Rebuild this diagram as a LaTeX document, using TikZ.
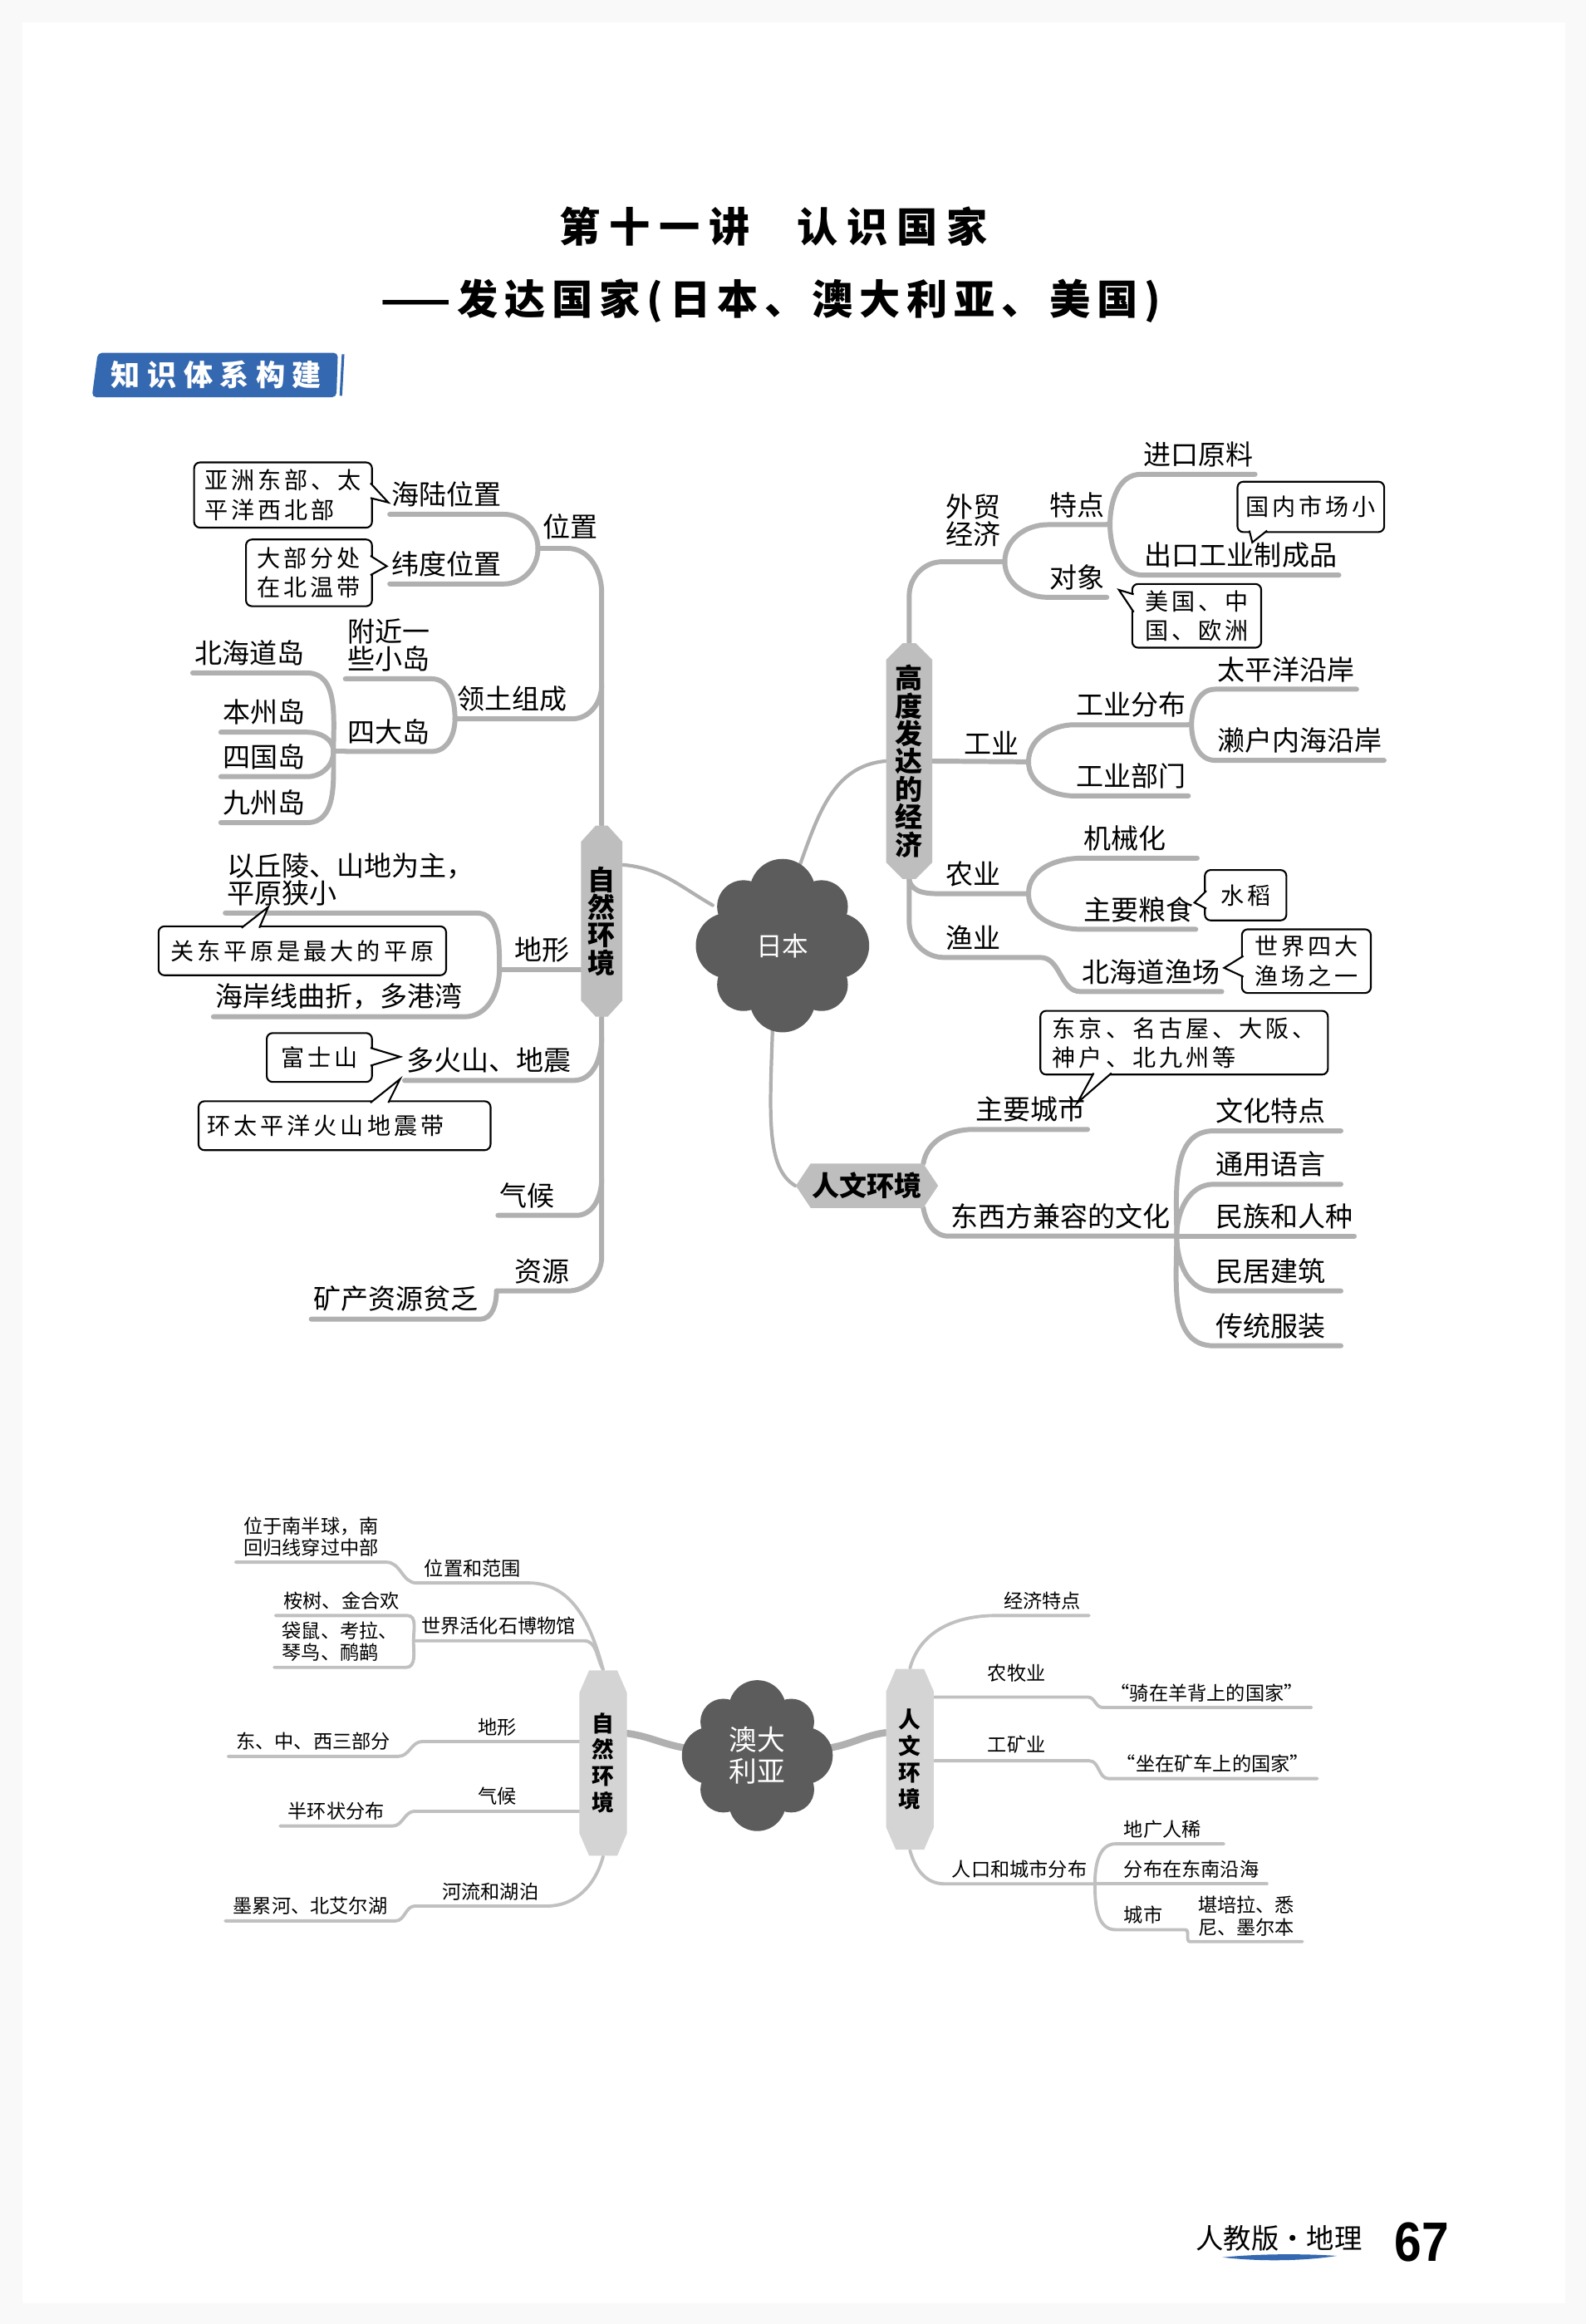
\documentclass[tikz,border=0pt]{standalone}
\usepackage{fontspec}
\setmainfont{Noto Sans CJK SC}
\newfontfamily\notefont[LetterSpace=14]{Noto Sans CJK SC}
\newfontfamily\titlefont[LetterSpace=22]{Noto Sans CJK SC}
\newfontfamily\subtitlefont[LetterSpace=16]{Noto Sans CJK SC}
\newfontfamily\badgefont[LetterSpace=24]{Noto Sans CJK SC}
\newfontfamily\numfont{Liberation Sans}
\usetikzlibrary{calc}

\definecolor{badgeblue}{RGB}{52,104,176}
\definecolor{cloudgray}{RGB}{92,92,92}
\definecolor{branchgray}{RGB}{176,176,176}
\definecolor{tagdark}{RGB}{190,190,190}
\definecolor{taglight}{RGB}{212,212,212}

\def\pxu{0.5076pt}

\pgfdeclarelayer{paper}
\pgfdeclarelayer{back}
\pgfsetlayers{paper,back,main}

\tikzset{
  lbl/.style={font=\fontsize{9.4}{9.5}\selectfont, inner xsep=1*\pxu, inner ysep=4.5*\pxu, align=left},
  slbl/.style={font=\fontsize{6.6}{7.4}\selectfont, inner xsep=5*\pxu, inner ysep=3.5*\pxu, align=left},
  ul/.style={text width=#1*\pxu},
  note/.style={draw, line width=0.6pt, rounded corners=2pt, fill=white, inner sep=0pt, align=left,
    font=\notefont\fontsize{8}{10}\selectfont},
  br/.style={draw=branchgray, line width=1.7pt, line cap=round},
  sbr/.style={draw=branchgray!80, line width=1.1pt, line cap=round},
  link/.style={draw=branchgray, line width=1.2pt, line cap=round},
  tagtxt/.style={inner sep=0pt, align=center, font=\bfseries\fontsize{9.4}{9.5}\selectfont},
  stagtxt/.style={inner sep=0pt, align=center, font=\bfseries\fontsize{7.6}{9.1}\selectfont},
  cloudtxt/.style={circle, inner sep=0pt, text=white, align=center}
}

% bracket twigs: fork -> child underline
\newcommand\twigL[4][br]{\draw[#1] (#2) to[out=#4,in=0] (#3.south east) -- (#3.south west);}
\newcommand\twigR[4][br]{\draw[#1] (#2) to[out=#4,in=180] (#3.south west) -- (#3.south east);}
\newcommand\stepL[2]{\draw[sbr] (#1) to[out=180,in=0] (#2.south east) -- (#2.south west);}
% callout pointer
\newcommand\notch[3]{\fill[white] (#1) -- (#3) -- (#2) -- cycle;
  \draw[line width=0.6pt] (#1) -- (#3) -- (#2);}
% centre cloud
\newcommand\cloudshape[2]{%
  \begin{scope}[shift={(#1)}, scale=#2]
    \fill[cloudgray] (0,0) circle[radius=44];
    \foreach \a in {0,90,180,270} {\fill[cloudgray] (\a:36.3) circle[radius=22.2];}
    \foreach \a in {45,135,225,315} {\fill[cloudgray] (\a:37.2) circle[radius=17.8];}
  \end{scope}}
% tag outline: x, ytop, ybot, width, neck, cut, colour
\newcommand\tagshape[7]{%
  \fill[#7] ({#1-#4/2},{#2+#6}) -- ({#1-#5/2},#2) -- ({#1+#5/2},#2) -- ({#1+#4/2},{#2+#6})
    -- ({#1+#4/2},{#3-#6}) -- ({#1+#5/2},#3) -- ({#1-#5/2},#3) -- ({#1-#4/2},{#3-#6}) -- cycle;}

\begin{document}
\begin{tikzpicture}[x=0.01784cm, y=-0.01784cm]
\begin{pgfonlayer}{paper}
  \fill[gray!5] (0,0) rectangle (1070,1568);
  \fill[white] (15,15) rectangle (1056,1554);
\end{pgfonlayer}
\useasboundingbox (0,0) rectangle (1070,1568);

% header
\node[font=\titlefont\bfseries\fontsize{14}{16}\selectfont] (ttl1) at (522,153) {第十一讲\hspace{16pt}认识国家};
\node[font=\subtitlefont\bfseries\fontsize{14}{16}\selectfont] (ttl2) at (520,203) {——发达国家(日本、澳大利亚、美国)};
\fill[badgeblue, rounded corners=1.5pt] (66,238) -- (228,238) -- (227,268) -- (62,268) -- cycle;
\draw[badgeblue, line width=0.9pt] (231.5,239) -- (230,267);
\node[font=\badgefont\bfseries\fontsize{10}{12}\selectfont, text=white] (badge) at (146,253) {知识体系构建};

% ---------- Japan ----------
\coordinate (jpc) at (528,638);
\cloudshape{jpc}{1}
\node[cloudtxt, minimum size=108*\pxu, font=\fontsize{9}{10}\selectfont] (jp) at (jpc) {日本};

\tagshape{406}{557}{686}{28}{8}{11}{tagdark}
\node[tagtxt, minimum width=28*\pxu, minimum height=129*\pxu] (tagzr) at (406,621.5) {自\\然\\环\\境};
\tagshape{613.5}{434}{593}{31}{9}{11}{tagdark}
\node[tagtxt, minimum width=31*\pxu, minimum height=159*\pxu] (tagjj) at (613.5,513.5) {高\\度\\发\\达\\的\\经\\济};
\fill[tagdark] (537,800) -- (547,785) -- (623,785) -- (633,800) -- (623,815) -- (547,815) -- cycle;
\node[tagtxt, minimum width=96*\pxu, minimum height=30*\pxu] (tagrw) at (585,800) {人文环境};

% natural environment
\node[lbl, anchor=south west] (wz) at (365,369) {位置};
\coordinate (fwz) at (363,370);
\node[lbl, anchor=south west] (hlwz) at (263,347) {海陆位置};
\node[lbl, anchor=south west] (wdwz) at (263,394) {纬度位置};
\node[note, minimum width=120*\pxu, minimum height=44*\pxu] (nb1) at (191,334) {亚洲东部、太\\平洋西北部};
\notch{250,326}{250,336}{262,339}
\node[note, minimum width=85*\pxu, minimum height=45*\pxu] (nb2) at (208.5,386.5) {大部分处\\在北温带};
\notch{250,375}{250,388}{261,382}

\node[lbl, anchor=south west] (ltzc) at (307,485) {领土组成};
\coordinate (fltzc) at (307,485);
\coordinate (tj1) at (406,462);
\node[lbl, anchor=south west] (fjxd) at (233,458) {附近一\\些小岛};
\node[lbl, anchor=south west] (sdd) at (233,507) {四大岛};
\coordinate (fsdd) at (225,507);
\node[lbl, anchor=south west] (bhd) at (130,454) {北海道岛};
\node[lbl, anchor=south west] (bzd) at (149,494) {本州岛};
\node[lbl, anchor=south west] (sgd) at (149,524) {四国岛};
\node[lbl, anchor=south west] (jzd) at (149,555) {九州岛};

\node[lbl, anchor=south west] (dx) at (346,654) {地形};
\coordinate (fdx) at (337,654);
\node[lbl, anchor=south west] (ylsd) at (152,616) {以丘陵、山地为主，\\平原狭小};
\node[note, minimum width=194*\pxu, minimum height=33*\pxu] (nb3) at (204,641.5) {关东平原是最大的平原};
\notch{163,626}{175,626}{181,612}
\node[lbl, anchor=south west] (hax) at (144,686) {海岸线曲折，多港湾};

\node[lbl, anchor=south west] (dhs) at (273,729) {多火山、地震};
\coordinate (tj2) at (406,700);
\node[note, minimum width=71*\pxu, minimum height=33*\pxu] (nb4) at (215.5,713.5) {富士山};
\notch{250,707}{250,719}{270,713}
\node[note, minimum width=197*\pxu, minimum height=33*\pxu, text width=185*\pxu] (nb5) at (232.5,759.5) {环太平洋火山地震带};
\notch{250,744}{262,744}{270,728}

\node[lbl, anchor=south west, ul=50] (qh) at (336,820) {气候};
\coordinate (tj3) at (406,795);
\node[lbl, anchor=south west] (zy) at (346,871) {资源};
\coordinate (fzy) at (335,871);
\node[lbl, anchor=south west] (kczy) at (210,890) {矿产资源贫乏};

% economy
\node[lbl, align=center] (wmjj) at (657,351) {外贸\\经济};
\coordinate (fwm) at (678,379);
\node[lbl, anchor=south west] (td) at (707,354) {特点};
\coordinate (ftd) at (749,354);
\node[lbl, anchor=south west] (jkyl) at (770,320) {进口原料};
\node[lbl, anchor=south west] (ckzp) at (771,388) {出口工业制成品};
\node[note, minimum width=99*\pxu, minimum height=34*\pxu] (nb6) at (884.5,342) {国内市场小};
\notch{843,358}{855,358}{845,366}
\node[lbl, anchor=south west] (dxo) at (707,403) {对象};
\node[note, minimum width=87*\pxu, minimum height=43*\pxu] (nb7) at (807.5,415.5) {美国、中\\国、欧洲};
\notch{765,401}{765,413}{755,398}

\node[lbl, anchor=south west] (gy) at (649,514) {工业};
\coordinate (fgy) at (694,514);
\node[lbl, anchor=south west] (gyfb) at (725,489) {工业分布};
\coordinate (fgyfb) at (804,489);
\node[lbl, anchor=south west] (gybm) at (725,537) {工业部门};
\node[lbl, anchor=south west] (tpyya) at (820,465) {太平洋沿岸};
\node[lbl, anchor=south west] (lhnh) at (820,513) {濑户内海沿岸};

\node[lbl, anchor=south west] (ny) at (637,603) {农业};
\coordinate (fny) at (694,603);
\node[lbl, anchor=south west, ul=75] (jxh) at (730,579) {机械化};
\node[lbl, anchor=south west] (zyls) at (730,627) {主要粮食};
\node[note, minimum width=55*\pxu, minimum height=34*\pxu] (nb8) at (840.5,604) {水稻};
\notch{814,601}{814,613}{806,609}

\node[lbl, anchor=south west] (yy) at (637,646) {渔业};
\coordinate (fyy) at (702,646);
\node[lbl, anchor=south west] (bhdyc) at (729,669) {北海道渔场};
\node[note, minimum width=87*\pxu, minimum height=43*\pxu] (nb9) at (881.5,648.5) {世界四大\\渔场之一};
\notch{839,645}{839,659}{826,653}

% human environment
\coordinate (rwtop) at (623,785);
\coordinate (rwbot) at (623,815);
\node[lbl, anchor=south west] (zycs) at (657,762) {主要城市};
\node[note, minimum width=194*\pxu, minimum height=43*\pxu] (nb10) at (799,703.5) {东京、名古屋、大阪、\\神户、北九州等};
\notch{738,724}{750,724}{727,744}
\node[lbl, anchor=south west] (dxfwh) at (640,834) {东西方兼容的文化};
\coordinate (fwh) at (794,834);
\node[lbl, anchor=south west, ul=83] (whtd) at (819,763) {文化特点};
\node[lbl, anchor=south west, ul=83] (tyyy) at (819,799) {通用语言};
\node[lbl, anchor=south west, ul=92] (mzrz) at (819,834) {民族和人种};
\node[lbl, anchor=south west, ul=83] (mjjz) at (819,871) {民居建筑};
\node[lbl, anchor=south west, ul=83] (ctfz) at (819,908) {传统服装};

\begin{pgfonlayer}{back}
  \draw[br] (tagzr.north) -- (406,400) to[out=90,in=0] (383,370) -- (fwz);
  \twigL{fwz}{hlwz}{90} \twigL{fwz}{wdwz}{-90}
  \draw[br] (fltzc) -- (386,485) to[out=0,in=-90] (tj1);
  \twigL{fltzc}{fjxd}{90} \twigL{fltzc}{sdd}{-90}
  \draw[br] (sdd.south west) -- (fsdd);
  \twigL{fsdd}{bhd}{90} \twigL{fsdd}{bzd}{90} \twigL{fsdd}{sgd}{-90} \twigL{fsdd}{jzd}{-90}
  \draw[br] (fdx) -- (fdx -| tagzr.center);
  \twigL{fdx}{ylsd}{90} \twigL{fdx}{hax}{-90}
  \draw[br] (tj2) to[out=-90,in=0] (dhs.south east) -- (dhs.south west);
  \draw[br] (tj3) to[out=-90,in=0] (qh.south east) -- (qh.south west);
  \draw[br] (tagzr.south) -- (406,848) to[out=-90,in=0] (383,871) -- (fzy);
  \twigL{fzy}{kczy}{-90}

  \draw[br] (tagjj.north) -- (613.5,402) to[out=90,in=180] (636,379) -- (fwm);
  \twigR{fwm}{td}{90} \twigR{fwm}{dxo}{-90}
  \draw[br] (td.south east) -- (ftd);
  \twigR{ftd}{jkyl}{90} \twigR{ftd}{ckzp}{-90}
  \draw[br] (tagjj.east) -- (fgy);
  \twigR{fgy}{gyfb}{90} \twigR{fgy}{gybm}{-90}
  \draw[br] (gyfb.south east) -- (fgyfb);
  \twigR{fgyfb}{tpyya}{90} \twigR{fgyfb}{lhnh}{-90}
  \draw[br] (tagjj.south) to[out=-80,in=180] (ny.south west) -- (fny);
  \twigR{fny}{jxh}{90} \twigR{fny}{zyls}{-90}
  \draw[br] (tagjj.south) -- (613.5,622) to[out=-90,in=180] (yy.south west) -- (fyy)
    to[out=0,in=180] (bhdyc.south west) -- (bhdyc.south east);

  \draw[br] (rwtop) to[out=80,in=180] (zycs.south west) -- (zycs.south east);
  \draw[br] (rwbot) to[out=-80,in=180] (dxfwh.south west) -- (dxfwh.south east) -- (fwh);
  \twigR{fwh}{whtd}{90} \twigR{fwh}{tyyy}{90}
  \draw[br] (fwh) -- (mzrz.south west) -- (mzrz.south east);
  \twigR{fwh}{mjjz}{-90} \twigR{fwh}{ctfz}{-90}

  \draw[link] ($(tagzr.east)+(0,-38)$) to[out=-5,in=150] (jp.150);
  \draw[link] (jp.78) to[out=70,in=185] (tagjj.west);
  \draw[link] (jp.263) .. controls +(-2,60) and +(-20,-12) .. (tagrw.west);
\end{pgfonlayer}

% ---------- Australia ----------
\coordinate (auc) at (511,1184.5);
\cloudshape{auc}{0.87}
\node[cloudtxt, minimum size=94*\pxu, font=\fontsize{9.6}{10.9}\selectfont] (au) at (auc) {澳大\\利亚};

\tagshape{407}{1127}{1252}{32}{19}{15}{taglight}
\node[stagtxt, minimum width=32*\pxu, minimum height=125*\pxu] (tagzr2) at (407,1189.5) {自\\然\\环\\境};
\tagshape{614}{1126}{1248}{32}{19}{15}{taglight}
\node[stagtxt, minimum width=32*\pxu, minimum height=122*\pxu] (tagrw2) at (614,1187) {人\\文\\环\\境};

\node[slbl, anchor=south west] (wzfw) at (281,1068) {位置和范围};
\node[slbl, anchor=south west] (wynbq) at (159,1054) {位于南半球，南\\回归线穿过中部};
\node[slbl, anchor=south west] (sjhhs) at (279,1107) {世界活化石博物馆};
\node[slbl, anchor=south west] (asjhh) at (186,1090) {桉树、金合欢};
\node[slbl, anchor=south west] (dskl) at (185,1125) {袋鼠、考拉、\\琴鸟、鸸鹋};
\node[slbl, anchor=south] (dx2) at (335.5,1175) {地形};
\coordinate (fdx2) at (285,1175);
\node[slbl, anchor=south west] (dzx) at (154,1185) {东、中、西三部分};
\node[slbl, anchor=south] (qh2) at (335.5,1222) {气候};
\coordinate (fqh2) at (280,1222);
\node[slbl, anchor=south west] (hzfb) at (189,1232) {半环状分布};
\node[slbl, anchor=south west] (hlhp) at (293,1286) {河流和湖泊};
\coordinate (fhl) at (280,1286);
\node[slbl, anchor=south west] (mlh) at (152,1296) {墨累河、北艾尔湖};

\node[slbl, anchor=south west] (jjtd) at (672,1090) {经济特点};
\node[slbl] (nmy) at (686,1129) {农牧业};
\coordinate (fnmy) at (734,1145);
\node[slbl, anchor=south west] (qzyb) at (744,1152) {“骑在羊背上的国家”};
\node[slbl] (gky) at (686,1177) {工矿业};
\coordinate (fgky) at (735,1188);
\node[slbl, anchor=south west] (zzkc) at (748,1200) {“坐在矿车上的国家”};
\node[slbl, anchor=south west] (rkcs) at (637,1271) {人口和城市分布};
\node[slbl, anchor=south west, ul=62] (dgrx) at (753,1244) {地广人稀};
\node[slbl, anchor=south west] (fbdn) at (753,1271) {分布在东南沿海};
\node[slbl, anchor=south west, ul=36] (cs2) at (753,1302) {城市};
\node[slbl, anchor=south west] (kpl) at (803,1310) {堪培拉、悉\\尼、墨尔本};

\begin{pgfonlayer}{back}
  \draw[sbr] (tagzr2.north) to[out=105,in=0] (wzfw.south east) -- (wzfw.south west);
  \stepL{wzfw.south west}{wynbq}
  \draw[sbr] (tagzr2.north) to[out=120,in=0] (sjhhs.south east) -- (sjhhs.south west);
  \twigL[sbr]{sjhhs.south west}{asjhh}{90} \twigL[sbr]{sjhhs.south west}{dskl}{-90}
  \draw[sbr] (tagzr2.west |- fdx2) -- (fdx2); \stepL{fdx2}{dzx}
  \draw[sbr] (tagzr2.west |- fqh2) -- (fqh2); \stepL{fqh2}{hzfb}
  \draw[sbr] (tagzr2.south) to[out=-105,in=0] (hlhp.south east) -- (hlhp.south west) -- (fhl);
  \stepL{fhl}{mlh}

  \draw[sbr] (tagrw2.north) to[out=75,in=180] (jjtd.south west) -- (jjtd.south east);
  \draw[sbr] (tagrw2.east |- fnmy) -- (fnmy) to[out=0,in=180] (qzyb.south west) -- (qzyb.south east);
  \draw[sbr] (tagrw2.east |- fgky) -- (fgky) to[out=0,in=180] (zzkc.south west) -- (zzkc.south east);
  \draw[sbr] (tagrw2.south) to[out=-75,in=180] (rkcs.south west) -- (rkcs.south east);
  \twigR[sbr]{rkcs.south east}{dgrx}{90}
  \draw[sbr] (rkcs.south east) -- (fbdn.south west) -- (fbdn.south east);
  \twigR[sbr]{rkcs.south east}{cs2}{-90}
  \draw[sbr] (cs2.south east) to[out=0,in=180] (kpl.south west) -- (kpl.south east);

  \draw[link, line width=2.4pt] ($(tagzr2.east)+(0,-20)$) to[out=-8,in=172] (au.174);
  \draw[link, line width=2.4pt] (au.6) to[out=8,in=188] ($(tagrw2.west)+(0,-18)$);
\end{pgfonlayer}

% footer
\node[font=\fontsize{9.5}{11}\selectfont] (bb) at (863,1510) {人教版・地理};
\fill[badgeblue] (825,1523) .. controls (850,1520.5) and (880,1520.5) .. (902,1522)
  .. controls (880,1525.5) and (850,1526) .. (825,1523) -- cycle;
\node[font=\numfont\bfseries\fontsize{19}{20}\selectfont] (pg) at (959.5,1513) {\scalebox{0.88}[1]{67}};
\end{tikzpicture}
\end{document}
